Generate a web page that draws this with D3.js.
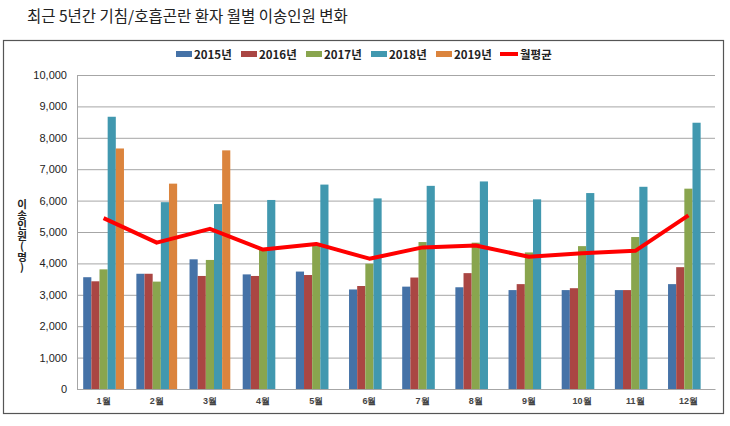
<!DOCTYPE html>
<html>
<head>
<meta charset="utf-8">
<script src="https://cdnjs.cloudflare.com/ajax/libs/d3/7.8.5/d3.min.js"></script>
<style>
  body { margin: 0; background: #fff; }
  svg { display: block; font-family: "Noto Sans CJK KR", "Noto Sans", sans-serif; }
</style>
</head>
<body>
<div id="chart"></div>
<script>
const months = ["1월", "2월", "3월", "4월", "5월", "6월", "7월", "8월", "9월", "10월", "11월", "12월"];
const years = ["2015년", "2016년", "2017년", "2018년", "2019년"];
const v2015 = [3560, 3670, 4130, 3650, 3740, 3170, 3260, 3240, 3150, 3150, 3150, 3340];
const v2016 = [3430, 3670, 3600, 3600, 3630, 3280, 3550, 3690, 3340, 3210, 3150, 3880];
const v2017 = [3810, 3420, 4110, 4430, 4590, 3990, 4680, 4660, 4350, 4550, 4840, 6380];
const v2018 = [8670, 5950, 5890, 6020, 6510, 6070, 6470, 6610, 6040, 6240, 6440, 8480];
const v2019 = [7660, 6540, 7600, null, null, null, null, null, null, null, null, null];
const monthly_avg = [5440, 4660, 5100, 4440, 4620, 4150, 4510, 4570, 4210, 4320, 4400, 5530];
const y_ticks = [0, 1000, 2000, 3000, 4000, 5000, 6000, 7000, 8000, 9000, 10000];

const series = [v2015, v2016, v2017, v2018, v2019];
const colors = ["#4572A7", "#AA4643", "#89A54E", "#4198AF", "#DB843D"];
const line_color = "#FF0000";

const width = 730, height = 426;
const margins = { left: 77, right: 15, top: 75, bottom: 37 };
const w = width - margins.left - margins.right;
const h = height - margins.top - margins.bottom;

const svg = d3.select("#chart").append("svg")
  .attr("width", width)
  .attr("height", height);

// title
svg.append("text")
  .attr("x", 27)
  .attr("y", 22)
  .attr("font-size", 15.5)
  .attr("fill", "#222")
  .text("최근 5년간 기침/호흡곤란 환자 월별 이송인원 변화");

// chart frame
svg.append("rect")
  .attr("x", 3.5).attr("y", 40.5)
  .attr("width", 720).attr("height", 373)
  .attr("fill", "none")
  .attr("stroke", "#555")
  .attr("stroke-width", 1.2);

const g = svg.append("g").attr("transform", `translate(${margins.left},${margins.top})`);

const X = d3.scaleBand().domain(months).range([0, w]).paddingInner(0).paddingOuter(0);
const X_inner = d3.scaleBand().domain(d3.range(series.length)).range([6.2, X.bandwidth() - 6.2]);
const Y = d3.scaleLinear().domain([0, 10000]).range([h, 0]);

// gridlines
g.append("g")
  .call(d3.axisLeft(Y).tickValues(y_ticks).tickSize(-w).tickFormat(""))
  .call((a) => a.select(".domain").remove())
  .call((a) => a.selectAll("line").attr("stroke", "#A6A6A6").attr("stroke-width", 1));

// y axis labels
g.append("g")
  .call(d3.axisLeft(Y).tickValues(y_ticks).tickSize(0).tickPadding(10).tickFormat(d3.format(",")))
  .call((a) => a.select(".domain").attr("stroke", "#A6A6A6"))
  .call((a) => a.selectAll("text")
    .attr("font-size", 11)
    .attr("fill", "#222")
    .attr("font-family", "'Liberation Sans', Arial, sans-serif"));

// bars
g.selectAll("g.month")
  .data(months)
  .enter()
  .append("g")
  .classed("month", true)
  .attr("transform", (d) => `translate(${X(d)},0)`)
  .each(function (m, mi) {
    const month_g = d3.select(this);
    series.forEach((s, si) => {
      const v = s[mi];
      if (v == null) return;
      month_g.append("rect")
        .attr("x", X_inner(si))
        .attr("width", X_inner.bandwidth())
        .attr("y", Y(v))
        .attr("height", h - Y(v))
        .attr("fill", colors[si]);
    });
  });

// x axis
g.append("g")
  .attr("transform", `translate(0,${h})`)
  .call(d3.axisBottom(X).tickSize(0).tickPadding(9))
  .call((a) => a.select(".domain").attr("stroke", "#A6A6A6"))
  .call((a) => a.selectAll("text")
    .attr("font-size", 9)
    .attr("font-weight", "bold")
    .attr("fill", "#444"));

// average line
const avg_line = d3.line()
  .x((d, i) => X(months[i]) + X.bandwidth() / 2)
  .y((d) => Y(d));

g.append("path")
  .attr("d", avg_line(monthly_avg))
  .attr("fill", "none")
  .attr("stroke", line_color)
  .attr("stroke-width", 4)
  .attr("stroke-linejoin", "round");

// y axis title, written vertically with upright hangul
svg.append("text")
  .attr("x", 22)
  .attr("y", 199)
  .attr("font-size", 10.5)
  .attr("font-weight", "bold")
  .attr("fill", "#222")
  .style("writing-mode", "vertical-rl")
  .style("text-orientation", "upright")
  .text("이송인원(명)");

// legend
const legend = svg.append("g").attr("transform", "translate(176,54)");
const legend_items = years.map((y, i) => ({ label: y, color: colors[i], type: "bar" }))
  .concat([{ label: "월평균", color: line_color, type: "line" }]);

legend_items.forEach((item, i) => {
  const lg = legend.append("g").attr("transform", `translate(${i * 65 - (item.type === "line" ? 1 : 0)},0)`);
  if (item.type === "bar") {
    lg.append("rect")
      .attr("x", 0).attr("y", -3)
      .attr("width", 16).attr("height", 6)
      .attr("fill", item.color);
  } else {
    lg.append("line")
      .attr("x1", 0).attr("x2", 18)
      .attr("y1", 0).attr("y2", 0)
      .attr("stroke", item.color)
      .attr("stroke-width", 4);
  }
  lg.append("text")
    .attr("x", item.type === "bar" ? 18 : 20)
    .attr("y", 0)
    .attr("dominant-baseline", "central")
    .attr("font-size", 11.5)
    .attr("font-weight", "bold")
    .attr("fill", "#222")
    .text(item.label);
});
</script>
</body>
</html>
